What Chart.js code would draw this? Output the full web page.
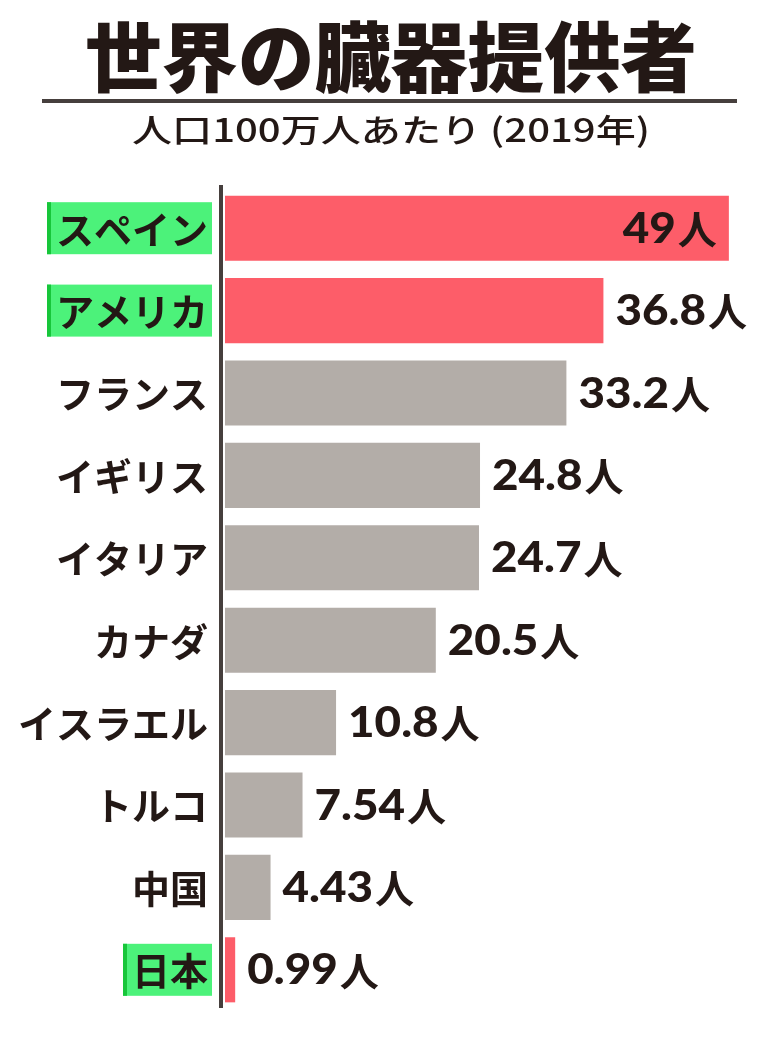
<!DOCTYPE html>
<html>
<head>
<meta charset="utf-8">
<script src="https://cdn.jsdelivr.net/npm/chart.js@4"></script>
<style>
html,body{margin:0;padding:0;background:#fff;}
canvas{display:block;}
</style>
</head>
<body>
<canvas id="c" width="780" height="1037" style="width:780px;height:1037px"></canvas>
<script>
const titleText = '世界の臓器提供者';
const subtitleText = '人口100万人あたり (2019年)';
const categories = ['スペイン','アメリカ','フランス','イギリス','イタリア','カナダ','イスラエル','トルコ','中国','日本'];
const values = [49, 36.8, 33.2, 24.8, 24.7, 20.5, 10.8, 7.54, 4.43, 0.99];
const valueLabels = ['49','36.8','33.2','24.8','24.7','20.5','10.8','7.54','4.43','0.99'];
const highlighted = [true, true, false, false, false, false, false, false, false, true];
const unitText = '人';

const RED = '#fd5d69', GRAY = '#b3ada8', GREEN = '#4cf27a', DGREEN = '#17c63a', INK = '#231815', LINE = '#463f3d';
const JP = "'Noto Sans CJK JP', 'Noto Sans', sans-serif";
const NUM = "Lato, Roboto, 'Noto Sans', sans-serif";
const NUM_SX = 1.09;

const decor = {
  id: 'decor',
  beforeDraw(chart) {
    const ctx = chart.ctx;
    ctx.save();
    ctx.fillStyle = '#fff';
    ctx.fillRect(0, 0, chart.width, chart.height);
    // title
    ctx.fillStyle = INK;
    ctx.textBaseline = 'middle';
    ctx.textAlign = 'center';
    ctx.font = '900 76px ' + JP;
    let w = ctx.measureText(titleText).width;
    ctx.save();
    ctx.translate(391, 57);
    ctx.scale(612 / w, 1);
    ctx.fillText(titleText, 0, 0);
    ctx.restore();
    // underline
    ctx.fillStyle = LINE;
    ctx.fillRect(42, 99, 695, 4);
    // subtitle
    ctx.fillStyle = INK;
    ctx.font = '500 32px ' + JP;
    w = ctx.measureText(subtitleText).width;
    ctx.save();
    ctx.translate(391, 130);
    ctx.scale(518 / w, 1);
    ctx.fillText(subtitleText, 0, 0);
    ctx.restore();
    // category labels
    const ys = chart.scales.y;
    ctx.font = 'bold 38px ' + JP;
    ctx.textAlign = 'right';
    categories.forEach((c, i) => {
      const y = ys.getPixelForValue(i);
      const right = 208;
      const tw = ctx.measureText(c).width;
      if (highlighted[i]) {
        const left = right - tw - 9;
        ctx.fillStyle = GREEN;
        ctx.fillRect(left, y - 26, 212 - left, 52);
        ctx.fillStyle = DGREEN;
        ctx.fillRect(left, y - 26, 4, 52);
      }
      ctx.fillStyle = INK;
      ctx.fillText(c, right, y + 1);
    });
    ctx.restore();
  },
  afterDatasetsDraw(chart) {
    const ctx = chart.ctx;
    const area = chart.chartArea;
    ctx.save();
    ctx.fillStyle = LINE;
    ctx.fillRect(area.left - 6, area.top - 2, 4, area.bottom - area.top - 1);
    const meta = chart.getDatasetMeta(0);
    ctx.textBaseline = 'middle';
    ctx.fillStyle = INK;
    meta.data.forEach((el, i) => {
      const num = valueLabels[i];
      ctx.font = '900 42px ' + NUM;
      const nw = ctx.measureText(num).width * NUM_SX;
      ctx.font = 'bold 39px ' + JP;
      const uw = ctx.measureText(unitText).width;
      let x;
      if (i === 0) {
        x = el.x - 12 - uw - 2 - nw;
      } else {
        x = el.x + 12;
      }
      ctx.textAlign = 'left';
      ctx.font = '900 42px ' + NUM;
      ctx.save();
      ctx.translate(x, el.y + 1);
      ctx.scale(NUM_SX, 1);
      ctx.fillText(num, 0, 0);
      ctx.restore();
      ctx.font = 'bold 39px ' + JP;
      ctx.fillText(unitText, x + nw + 2, el.y + 1);
    });
    ctx.restore();
  }
};

new Chart(document.getElementById('c'), {
  type: 'bar',
  data: {
    labels: categories,
    datasets: [{
      data: values,
      backgroundColor: highlighted.map(h => h ? RED : GRAY),
      borderWidth: 0,
      barPercentage: 0.79,
      categoryPercentage: 1
    }]
  },
  options: {
    indexAxis: 'y',
    responsive: false,
    animation: false,
    layout: { padding: { left: 225, top: 187, bottom: 26, right: 10 } },
    scales: {
      x: { display: false, min: 0, max: 53 },
      y: { display: false }
    },
    plugins: { legend: { display: false }, tooltip: { enabled: false } }
  },
  plugins: [decor]
});
</script>
</body>
</html>
